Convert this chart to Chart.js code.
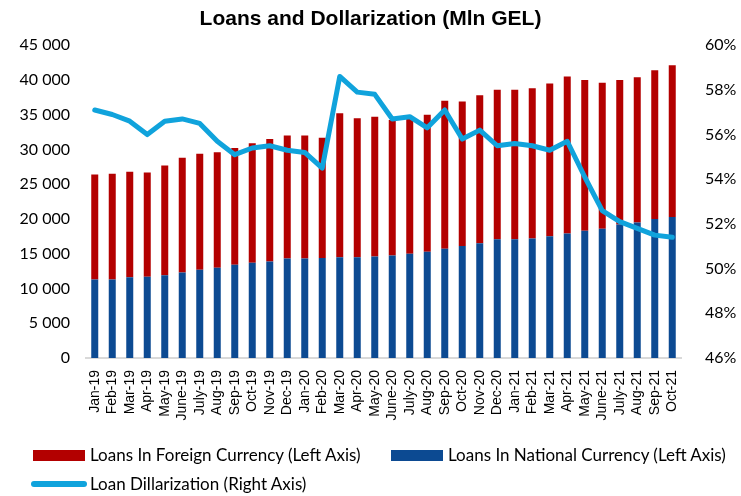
<!DOCTYPE html>
<html>
<head>
<meta charset="utf-8">
<script src="https://cdn.jsdelivr.net/npm/chart.js@4"></script>
<style>
  html, body { margin: 0; padding: 0; background: #fff; }
  #wrap { position: relative; width: 741px; height: 496px; }
  #legend { position: absolute; left: 0; top: 0; width: 741px; height: 496px; pointer-events: none;
            font-family: Lato, "Open Sans", sans-serif; font-size: 17px; color: #000; }
  .item { position: absolute; white-space: nowrap; line-height: 20px; }
  .sw { position: absolute; }
</style>
</head>
<body>
<div id="wrap">
  <canvas id="chart" width="741" height="496"></canvas>
  <div id="legend"></div>
</div>
<script>
'use strict';

// ── Data ─────────────────────────────────────────────
const months = [
  'Jan-19','Feb-19','Mar-19','Apr-19','May-19','June-19','July-19','Aug-19','Sep-19','Oct-19','Nov-19','Dec-19',
  'Jan-20','Feb-20','Mar-20','Apr-20','May-20','June-20','July-20','Aug-20','Sep-20','Oct-20','Nov-20','Dec-20',
  'Jan-21','Feb-21','Mar-21','Apr-21','May-21','June-21','July-21','Aug-21','Sep-21','Oct-21'
];

// national currency loans (bottom of stack), mln GEL
const nationalLoans = [
  11300, 11300, 11600, 11700, 11900, 12300, 12700, 13000, 13400, 13700, 13900, 14300,
  14300, 14400, 14500, 14500, 14600, 14750, 15000, 15300, 15700, 16100, 16500, 17100,
  17100, 17200, 17500, 17900, 18300, 18600, 19200, 19500, 20000, 20300
];

// foreign currency loans (top of stack), mln GEL
const foreignLoans = [
  15100, 15200, 15200, 15000, 15800, 16500, 16700, 16600, 16800, 17200, 17600, 17700,
  17700, 17300, 20700, 20000, 20100, 19500, 19500, 19700, 21300, 20800, 21300, 21500,
  21500, 21600, 22000, 22600, 21700, 21000, 20800, 20900, 21400, 21800
];

// loan dollarization, %
const dollarization = [
  57.1, 56.9, 56.6, 56.0, 56.6, 56.7, 56.5, 55.7, 55.1, 55.4, 55.5, 55.3,
  55.2, 54.5, 58.6, 57.9, 57.8, 56.7, 56.8, 56.3, 57.1, 55.8, 56.2, 55.5,
  55.6, 55.5, 55.3, 55.7, 54.1, 52.6, 52.1, 51.8, 51.5, 51.4
];

const RED  = '#b30000';
const BLUE = '#0c4a92';
const CYAN = '#10a3dc';

// ── Helper: "45 000" ─────────────────────────────────
function fmtThousands(v) {
  return String(v).replace(/\B(?=(\d{3})+(?!\d))/g, ' ');
}

// ── Chart ────────────────────────────────────────────
const ctx = document.getElementById('chart').getContext('2d');
new Chart(ctx, {
  data: {
    labels: months,
    datasets: [
      {
        type: 'line',
        label: 'Loan Dillarization (Right Axis)',
        data: dollarization,
        yAxisID: 'y1',
        borderColor: CYAN,
        backgroundColor: CYAN,
        borderWidth: 5,
        pointRadius: 0,
        tension: 0,
        borderJoinStyle: 'round',
        borderCapStyle: 'round',
        order: 0,
      },
      {
        type: 'bar',
        label: 'Loans In National Currency (Left Axis)',
        data: nationalLoans,
        yAxisID: 'y',
        backgroundColor: BLUE,
        categoryPercentage: 0.8,
        barPercentage: 0.5,
        order: 1,
      },
      {
        type: 'bar',
        label: 'Loans In Foreign Currency (Left Axis)',
        data: foreignLoans,
        yAxisID: 'y',
        backgroundColor: RED,
        categoryPercentage: 0.8,
        barPercentage: 0.5,
        order: 1,
      },
    ],
  },
  options: {
    responsive: false,
    animation: false,
    layout: { padding: { left: 0, right: 0, top: 0, bottom: 0 } },
    plugins: {
      legend: { display: false },
      tooltip: { enabled: false },
      title: {
        display: true,
        text: 'Loans and Dollarization (Mln GEL)',
        color: '#000',
        font: { family: '"Liberation Sans", Arial, sans-serif', size: 21, weight: 'bold' },
        padding: { top: 7, bottom: 13 },
      },
    },
    scales: {
      x: {
        stacked: true,
        grid: { display: false },
        border: { color: '#d9d9d9', width: 2 },
        ticks: {
          minRotation: 90, maxRotation: 90, autoSkip: false,
          color: '#000', padding: 4,
          font: { family: '"Liberation Sans", Arial, sans-serif', size: 14 },
        },
        afterFit: s => { s.height = 138; },
      },
      y: {
        stacked: true,
        position: 'left',
        min: 0, max: 45000,
        grid: { display: false },
        border: { display: false },
        ticks: {
          stepSize: 5000, color: '#000', padding: 8,
          font: { family: 'Lato, sans-serif', size: 16 },
          callback: v => fmtThousands(v),
        },
        afterFit: s => { s.width = 86; },
      },
      y1: {
        position: 'right',
        min: 46, max: 60,
        grid: { display: false },
        border: { display: false },
        ticks: {
          stepSize: 2, color: '#000', padding: 16,
          font: { family: 'Lato, sans-serif', size: 16 },
          callback: v => v + '%',
        },
        afterFit: s => { s.width = 60; },
      },
    },
  },
});

// ── Legend (HTML, laid out like the original) ────────
const legendItems = [
  { text: 'Loans In Foreign Currency (Left Axis)',  color: RED,  kind: 'box',  x: 33,  y: 455 },
  { text: 'Loans In National Currency (Left Axis)', color: BLUE, kind: 'box',  x: 391, y: 455 },
  { text: 'Loan Dillarization (Right Axis)',        color: CYAN, kind: 'line', x: 31,  y: 484 },
];
const legendEl = document.getElementById('legend');
legendItems.forEach(it => {
  const sw = document.createElement('div');
  sw.className = 'sw';
  if (it.kind === 'box') {
    sw.style.cssText = `left:${it.x}px;top:${it.y - 5}px;width:52px;height:11px;background:${it.color};`;
  } else {
    sw.style.cssText = `left:${it.x}px;top:${it.y - 3}px;width:56px;height:6px;border-radius:3px;background:${it.color};`;
  }
  legendEl.appendChild(sw);
  const tx = document.createElement('div');
  tx.className = 'item';
  tx.textContent = it.text;
  tx.style.left = (it.x + (it.kind === 'box' ? 57 : 59)) + 'px';
  tx.style.top = (it.y - 10) + 'px';
  legendEl.appendChild(tx);
});
</script>
</body>
</html>
